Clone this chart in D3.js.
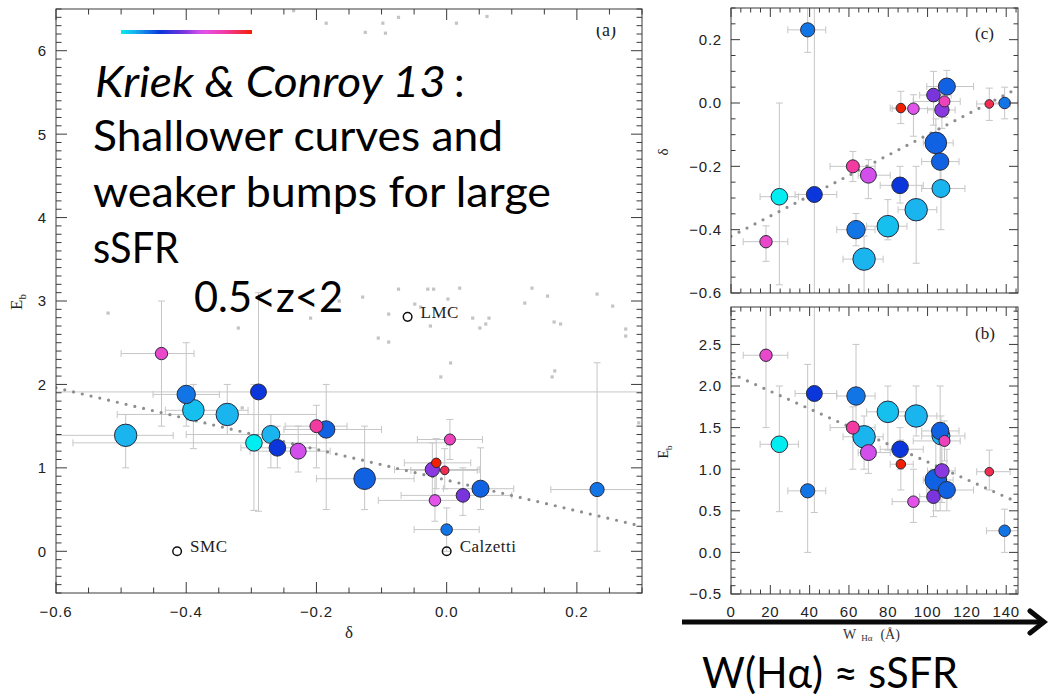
<!DOCTYPE html>
<html><head><meta charset="utf-8">
<script src="https://cdn.jsdelivr.net/npm/d3@7"></script>
<style>body{margin:0;background:#fff} svg{display:block}</style>
</head><body>
<svg id="fig" width="1048" height="699"></svg>
<script>
// ---- galaxy measurements (same order in every panel) ----
const wHa     = [17.8, 63.6, 79.8, 67.7, 94.2, 42.4, 24.6, 106.8, 86.0, 69.9, 62.0, 106.4, 104.2, 108.6, 86.4, 131.4, 107.3, 92.8, 103.0, 109.8, 139.2, 39.0];
const wHaLo   = [6.2, 53.8, 69.0, 57.0, 85.0, 32.6, 14.8, 97.0, 75.9, 64.7, 50.4, 97.0, 97.8, 92.7, 81.0, 125.0, 100.0, 82.0, 96.0, 99.6, 130.0, 28.9];
const wHaHi   = [28.9, 73.3, 89.5, 77.4, 104.7, 53.8, 34.3, 119.0, 97.8, 81.0, 73.3, 116.0, 113.0, 116.6, 92.7, 142.0, 114.0, 104.0, 112.0, 123.4, 146.0, 48.2];
const delta   = [-0.438, -0.400, -0.389, -0.493, -0.337, -0.289, -0.296, -0.270, -0.260, -0.228, -0.200, -0.185, -0.126, 0.005, -0.016, -0.003, -0.022, -0.018, 0.025, 0.052, 0.000, 0.231];
const deltaLo = [-0.500, -0.451, -0.432, -0.620, -0.506, -0.800, -0.574, -0.400, -0.316, -0.302, -0.248, -0.250, -0.200, -0.045, -0.065, -0.055, -0.080, -0.105, -0.070, -0.005, -0.050, 0.160];
const deltaHi = [-0.388, -0.349, -0.305, -0.420, -0.200, 0.500, 0.000, -0.180, -0.200, -0.179, -0.153, -0.100, -0.050, 0.055, 0.037, 0.047, 0.050, 0.026, 0.100, 0.103, 0.050, 0.400];
const eb      = [2.37, 1.88, 1.69, 1.39, 1.64, 1.91, 1.30, 1.40, 1.24, 1.20, 1.50, 1.46, 0.87, 1.34, 1.06, 0.97, 0.98, 0.61, 0.67, 0.75, 0.26, 0.74];
const ebLo    = [1.50, 1.50, 1.23, 1.00, 1.40, 0.48, 0.49, 1.00, 1.00, 0.95, 1.00, 0.50, 0.50, 1.10, 0.75, 0.75, 0.60, 0.36, 0.43, 0.50, 0.00, 0.00];
const ebHi    = [3.00, 2.50, 2.00, 1.64, 2.00, 3.10, 2.00, 1.64, 1.50, 1.50, 1.75, 2.00, 1.50, 1.58, 1.35, 1.23, 1.30, 1.00, 1.00, 1.24, 0.52, 2.26];
// colour-coded quantity (0 = cyan end of the bar, 1 = red end)
const colourVal = [0.70, 0.20, 0.08, 0.10, 0.10, 0.30, 0.00, 0.10, 0.30, 0.60, 0.80, 0.23, 0.23, 0.74, 1.00, 0.90, 0.50, 0.63, 0.48, 0.23, 0.20, 0.20];
// symbol-area coded quantity (relative)
const sizeVal   = [0.29, 0.64, 0.88, 0.95, 0.95, 0.48, 0.52, 0.61, 0.52, 0.48, 0.32, 0.57, 0.88, 0.23, 0.17, 0.14, 0.39, 0.25, 0.35, 0.55, 0.25, 0.38];

// ---- comparison sample (grey squares, panel a) ----
const refDelta = [-0.520, -0.320, -0.209, -0.165, -0.314, -0.129, -0.074, -0.029, -0.020, 0.020, -0.089, -0.049, -0.040, 0.002, -0.105, -0.089, -0.025, 0.040, 0.051, 0.060, 0.065, 0.120, 0.131, 0.155, 0.165, 0.175, 0.231, 0.255, 0.275, 0.275, 0.006, -0.009, 0.166, 0.162, 0.295,
                  -0.235, -0.185, -0.125, -0.098, -0.094, -0.074, 0.015, 0.062];
const refEb    = [2.855, 2.676, 2.795, 2.999, 1.719, 3.047, 3.142, 3.142, 3.142, 3.154, 2.843, 2.963, 2.927, 3.023, 2.556, 2.508, 2.700, 2.795, 2.676, 2.724, 2.795, 2.975, 3.154, 3.059, 2.748, 2.724, 3.083, 2.939, 2.664, 2.580, 2.257, 2.090, 2.162, 2.090, 1.540,
                  6.480, 6.330, 6.220, 6.330, 6.210, 6.400, 6.330, 6.410];

// ---- reference attenuation laws ----
const lawNames = ["SMC", "LMC", "Calzetti"];
const lawDelta = [-0.414, -0.060, 0.000];
const lawEb    = [0.00, 2.81, 0.00];

// ---- linear trends (end points) ----
const fitADelta = [-0.6, 0.3],  fitAEb    = [1.96, 0.30];
const fitCW     = [0, 146],     fitCDelta = [-0.421, 0.047];
const fitBW     = [0, 146],     fitBEb    = [2.15, 0.60];

// ---- tick values ----
const aTicksX = [-0.6, -0.4, -0.2, 0.0, 0.2];
const aTicksY = [0, 1, 2, 3, 4, 5, 6];
const cTicksY = [-0.6, -0.4, -0.2, 0.0, 0.2];
const bTicksY = [-0.5, 0.0, 0.5, 1.0, 1.5, 2.0, 2.5];
const bTicksX = [0, 20, 40, 60, 80, 100, 120, 140];

const svg = d3.select('#fig');
const defs = svg.append('defs');

const colour = d3.scaleLinear()
  .domain([0, 0.1, 0.3, 0.48, 0.62, 0.8, 1])
  .range(['#00eef2', '#1ab4ee', '#0a36dc', '#7a34dc', '#e254ee', '#f23aa0', '#f22000'])
  .interpolate(d3.interpolateRgb);
const radius = d3.scaleSqrt().domain([0, 1]).range([0, 11.5]);

const N = wHa.length;
const order = d3.range(N).sort((a, b) => sizeVal[b] - sizeVal[a]);

const tickFont = "'Liberation Sans', Arial, sans-serif";
const serif = "'Liberation Serif', 'DejaVu Serif', serif";
const slideFont = "Lato, 'Open Sans', sans-serif";

function steps(dom, step) {
  const out = [];
  let v = Math.ceil(dom[0] / step - 1e-9);
  for (; v * step <= dom[1] + 1e-9; v++) out.push(+(v * step).toFixed(6));
  return out;
}

function makePanel(o) {
  const x = d3.scaleLinear().domain(o.xDom).range([o.l, o.r]);
  const y = d3.scaleLinear().domain(o.yDom).range([o.b, o.t]);
  const cid = 'clip-' + o.id;
  defs.append('clipPath').attr('id', cid).append('rect')
    .attr('x', o.l).attr('y', o.t).attr('width', o.r - o.l).attr('height', o.b - o.t);
  const g = svg.append('g');
  const plot = g.append('g').attr('clip-path', `url(#${cid})`);
  return { o, x, y, g, plot };
}

function drawFrame(p) {
  const { o, x, y, g } = p;
  const ax = g.append('g').attr('stroke', '#3a3a3a').attr('stroke-width', 1).attr('fill', 'none');
  ax.append('rect').attr('x', o.l).attr('y', o.t).attr('width', o.r - o.l).attr('height', o.b - o.t);
  const near = (arr, v) => arr.some(m => Math.abs(m - v) < 1e-6);
  steps(o.xDom, o.xMinor).forEach(v => {
    const len = near(o.xMajor, v) ? o.majLen : o.minLen;
    const px = x(v);
    ax.append('line').attr('x1', px).attr('x2', px).attr('y1', o.b).attr('y2', o.b - len);
    ax.append('line').attr('x1', px).attr('x2', px).attr('y1', o.t).attr('y2', o.t + len);
  });
  steps(o.yDom, o.yMinor).forEach(v => {
    const len = near(o.yMajor, v) ? o.majLen : o.minLen;
    const py = y(v);
    ax.append('line').attr('y1', py).attr('y2', py).attr('x1', o.l).attr('x2', o.l + len);
    ax.append('line').attr('y1', py).attr('y2', py).attr('x1', o.r).attr('x2', o.r - len);
  });
  if (o.xLabels) {
    g.append('g').selectAll('text').data(o.xMajor).join('text')
      .attr('x', d => x(d)).attr('y', o.b + o.xLabelDy)
      .attr('text-anchor', 'middle').attr('font-family', tickFont).attr('font-size', o.labelSize)
      .attr('letter-spacing', 0.8).attr('fill', '#222').text(o.xFmt);
  }
  g.append('g').selectAll('text').data(o.yMajor).join('text')
    .attr('x', o.l - 9).attr('y', d => y(d) + o.labelSize * 0.36)
    .attr('text-anchor', 'end').attr('font-family', tickFont).attr('font-size', o.labelSize)
    .attr('letter-spacing', 0.8).attr('fill', '#222').text(o.yFmt);
}

function drawData(p, xv, xlo, xhi, yv, ylo, yhi, fitX, fitY) {
  const { x, y, plot } = p;
  const cap = 3.5;
  const eg = plot.append('g').attr('stroke', '#c6c6c6').attr('stroke-width', 1);
  d3.range(N).forEach(i => {
    const cx = x(xv[i]), cy = y(yv[i]);
    const x0 = x(xlo[i]), x1 = x(xhi[i]), y0 = y(ylo[i]), y1 = y(yhi[i]);
    eg.append('line').attr('x1', x0).attr('x2', x1).attr('y1', cy).attr('y2', cy);
    eg.append('line').attr('x1', x0).attr('x2', x0).attr('y1', cy - cap).attr('y2', cy + cap);
    eg.append('line').attr('x1', x1).attr('x2', x1).attr('y1', cy - cap).attr('y2', cy + cap);
    eg.append('line').attr('x1', cx).attr('x2', cx).attr('y1', y0).attr('y2', y1);
    eg.append('line').attr('x1', cx - cap).attr('x2', cx + cap).attr('y1', y0).attr('y2', y0);
    eg.append('line').attr('x1', cx - cap).attr('x2', cx + cap).attr('y1', y1).attr('y2', y1);
  });
  plot.append('line')
    .attr('x1', x(fitX[0])).attr('y1', y(fitY[0]))
    .attr('x2', x(fitX[1])).attr('y2', y(fitY[1]))
    .attr('stroke', '#8e8e8e').attr('stroke-width', 3.2)
    .attr('stroke-linecap', 'round').attr('stroke-dasharray', '0 9');
  plot.append('g').selectAll('circle').data(order).join('circle')
    .attr('cx', i => x(xv[i])).attr('cy', i => y(yv[i]))
    .attr('r', i => radius(sizeVal[i]))
    .attr('fill', i => colour(colourVal[i]))
    .attr('stroke', '#2a2a3a').attr('stroke-width', 1);
}

function yTitleEb(xp, yp, size) {
  const t = svg.append('text').attr('transform', `translate(${xp},${yp}) rotate(-90)`)
    .attr('text-anchor', 'middle').attr('font-family', serif).attr('font-size', size).attr('fill', '#222');
  t.append('tspan').text('E');
  t.append('tspan').attr('font-size', size * 0.65).attr('dy', size * 0.25).text('b');
}

const f1 = d3.format('.1f');

// ---------------- panel (a): E_b vs delta ----------------
const pa = makePanel({ id: 'a', l: 56, r: 642, t: 9, b: 593, xDom: [-0.6, 0.3], yDom: [-0.5, 6.5],
  xMajor: aTicksX, xMinor: 0.05, yMajor: aTicksY, yMinor: 0.1, majLen: 11, minLen: 5.5,
  xLabels: true, xLabelDy: 24, labelSize: 15, xFmt: f1, yFmt: d3.format('d') });

pa.plot.append('g').attr('fill', '#c4c4c4').selectAll('rect').data(d3.range(refDelta.length)).join('rect')
  .attr('x', i => pa.x(refDelta[i]) - 1.6).attr('y', i => pa.y(refEb[i]) - 1.6)
  .attr('width', 3.2).attr('height', 3.2);

drawData(pa, delta, deltaLo, deltaHi, eb, ebLo, ebHi, fitADelta, fitAEb);

const laws = pa.plot.append('g');
laws.selectAll('circle').data(lawNames).join('circle')
  .attr('cx', (d, i) => pa.x(lawDelta[i])).attr('cy', (d, i) => pa.y(lawEb[i]))
  .attr('r', 4.3).attr('fill', 'none').attr('stroke', '#111').attr('stroke-width', 1.5);
laws.selectAll('text').data(lawNames).join('text')
  .attr('x', (d, i) => pa.x(lawDelta[i]) + 13).attr('y', (d, i) => pa.y(lawEb[i]) + 1)
  .attr('font-family', serif).attr('font-size', 17).attr('fill', '#222').attr('letter-spacing', 0.5)
  .text(d => d);

drawFrame(pa);
yTitleEb(22, 302, 17);
svg.append('text').attr('x', 349).attr('y', 638).attr('text-anchor', 'middle')
  .attr('font-family', serif).attr('font-size', 17).attr('fill', '#222').text('δ');

// panel tag, its upper half hidden
defs.append('clipPath').attr('id', 'clip-alabel').append('rect')
  .attr('x', 580).attr('y', 27).attr('width', 60).attr('height', 30);
svg.append('text').attr('clip-path', 'url(#clip-alabel)')
  .attr('x', 596).attr('y', 36).attr('font-family', serif).attr('font-size', 18).attr('fill', '#222').text('(a)');

// colour bar
const grad = defs.append('linearGradient').attr('id', 'cbar');
d3.range(0, 1.0001, 0.05).forEach(t =>
  grad.append('stop').attr('offset', t).attr('stop-color', colour(t)));
svg.append('rect').attr('x', 121).attr('y', 30).attr('width', 131).attr('height', 4).attr('fill', 'url(#cbar)');

// ---------------- panel (c): delta vs W(Halpha) ----------------
const pc = makePanel({ id: 'c', l: 731, r: 1018, t: 8, b: 293, xDom: [0, 146], yDom: [-0.6, 0.3],
  xMajor: bTicksX, xMinor: 5, yMajor: cTicksY, yMinor: 0.05, majLen: 9, minLen: 4.5,
  xLabels: false, labelSize: 15, xFmt: d3.format('d'), yFmt: f1 });
drawData(pc, wHa, wHaLo, wHaHi, delta, deltaLo, deltaHi, fitCW, fitCDelta);
drawFrame(pc);
svg.append('text').attr('transform', 'translate(668,152) rotate(-90)').attr('text-anchor', 'middle')
  .attr('font-family', serif).attr('font-size', 15).attr('fill', '#222').text('δ');
svg.append('text').attr('x', 975).attr('y', 39).attr('font-family', serif).attr('font-size', 17).attr('fill', '#222').text('(c)');

// ---------------- panel (b): E_b vs W(Halpha) ----------------
const pb = makePanel({ id: 'b', l: 731, r: 1018, t: 307, b: 594, xDom: [0, 146], yDom: [-0.5, 2.95],
  xMajor: bTicksX, xMinor: 5, yMajor: bTicksY, yMinor: 0.1, majLen: 9, minLen: 4.5,
  xLabels: true, xLabelDy: 23, labelSize: 15, xFmt: d3.format('d'), yFmt: f1 });
drawData(pb, wHa, wHaLo, wHaHi, eb, ebLo, ebHi, fitBW, fitBEb);
drawFrame(pb);
yTitleEb(668, 452, 14);
svg.append('text').attr('x', 975).attr('y', 339).attr('font-family', serif).attr('font-size', 17).attr('fill', '#222').text('(b)');

const wt = svg.append('text').attr('x', 843).attr('y', 639).attr('font-family', serif).attr('font-size', 14).attr('fill', '#333');
wt.append('tspan').text('W');
wt.append('tspan').attr('dx', 5).attr('dy', 2).attr('font-size', 9).text('Hα');
wt.append('tspan').attr('dx', 8).attr('dy', -2).text('(Å)');

// ---------------- slide annotations ----------------
const ann = svg.append('g').attr('font-family', slideFont).attr('fill', '#000');
ann.append('text').attr('x', 95).attr('y', 97).attr('font-size', 42).attr('font-style', 'italic')
  .attr('textLength', 351).attr('lengthAdjust', 'spacingAndGlyphs').text('Kriek & Conroy 13');
ann.append('text').attr('x', 454).attr('y', 97).attr('font-size', 42).text(':');
ann.append('text').attr('x', 93).attr('y', 151).attr('font-size', 42)
  .attr('textLength', 410).attr('lengthAdjust', 'spacingAndGlyphs').text('Shallower curves and');
ann.append('text').attr('x', 93).attr('y', 207).attr('font-size', 42)
  .attr('textLength', 458).attr('lengthAdjust', 'spacingAndGlyphs').text('weaker bumps for large');
ann.append('text').attr('x', 93).attr('y', 263).attr('font-size', 42)
  .attr('textLength', 86).attr('lengthAdjust', 'spacingAndGlyphs').text('sSFR');
ann.append('text').attr('x', 194).attr('y', 312).attr('font-size', 42)
  .attr('textLength', 149).attr('lengthAdjust', 'spacingAndGlyphs').text('0.5<z<2');
ann.append('text').attr('x', 702).attr('y', 688).attr('font-size', 43)
  .attr('textLength', 256).attr('lengthAdjust', 'spacingAndGlyphs').text('W(Hα) ≈ sSFR');

// arrow along the W(Halpha) axis
const arr = svg.append('g').attr('stroke', '#0a0a0a').attr('stroke-width', 5).attr('fill', 'none');
arr.append('line').attr('x1', 682).attr('y1', 622).attr('x2', 1042).attr('y2', 622);
arr.append('polyline').attr('points', '1030,611 1044,622 1030,633')
  .attr('stroke-linejoin', 'miter').attr('stroke-linecap', 'round');
</script>
</body></html>
